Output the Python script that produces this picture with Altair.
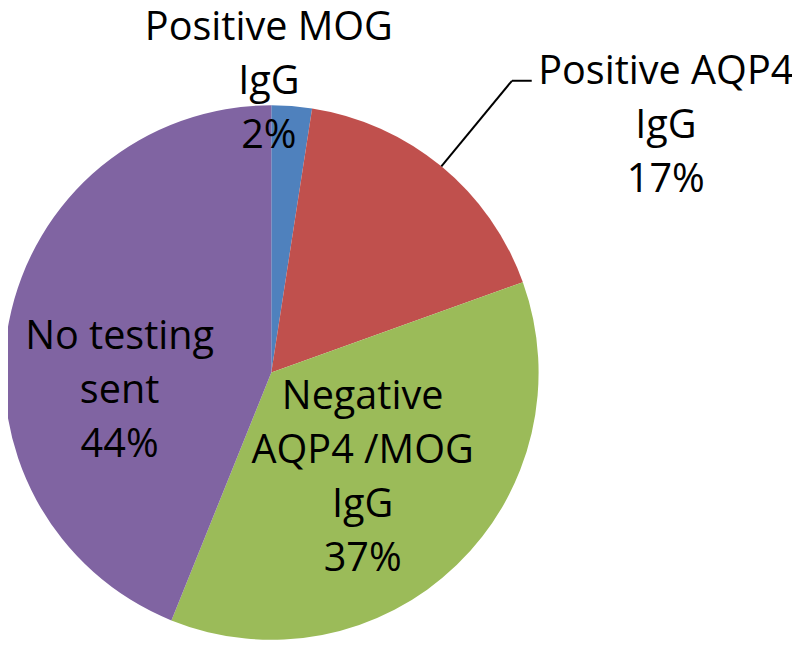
import altair as alt
import pandas as pd

# ---- data ----
categories = ["Positive MOG IgG", "Positive AQP4 IgG", "Negative AQP4 /MOG IgG", "No testing sent"]
counts = [1, 7, 15, 18]
labels = ["Positive MOG\nIgG\n2%", "Positive AQP4\nIgG\n17%", "Negative\nAQP4 /MOG\nIgG\n37%", "No testing\nsent\n44%"]
colors = ["#4F81BD", "#C0504D", "#9BBB59", "#8064A2"]

df = pd.DataFrame({
    "category": categories,
    "count": counts,
    "label": labels,
    "order": list(range(len(categories))),
})

# ---- layout ----
W, H = 792, 637
CX, CY, R = 266, 365, 270
FONT = "Open Sans"
FS = 40
LH = 54.5

base = alt.Chart(df)

pie = base.mark_arc(outerRadius=R, strokeWidth=0).encode(
    theta=alt.Theta("count:Q", stack=True),
    color=alt.Color("category:N", scale=alt.Scale(domain=categories, range=colors), legend=None),
    order=alt.Order("order:Q"),
    x=alt.value(CX),
    y=alt.value(CY),
)

lab = (
    base.transform_joinaggregate(total="sum(count)")
    .transform_window(cum="sum(count)", sort=[alt.SortField("order")])
    .transform_calculate(mid="(datum.cum - datum.count / 2) / datum.total * 2 * PI")
)

text_props = dict(font=FONT, fontSize=FS, lineHeight=LH, lineBreak="\n",
                  align="center", baseline="middle", color="black")

def text_layer(cat, radius, dx=0, dy=0):
    return lab.transform_filter(
        alt.FieldEqualPredicate(field="category", equal=cat)
    ).mark_text(radius=radius, dx=dx, dy=dy, **text_props).encode(
        theta=alt.Theta("mid:Q", scale=None, stack=None),
        text="label:N",
        x=alt.value(CX),
        y=alt.value(CY),
    )

mog_label = text_layer(categories[0], 294, dx=-25, dy=-LH)
aqp4_label = text_layer(categories[1], 323, dx=193, dy=-LH)
neg_label = text_layer(categories[2], 146, dx=-9, dy=-80)
none_label = text_layer(categories[3], 150, dx=-6, dy=-7)

leader_base = lab.transform_filter(
    alt.FieldEqualPredicate(field="category", equal=categories[1])
).transform_calculate(
    x0=f"{CX} + {R} * sin(datum.mid)",
    y0=f"{CY} - {R} * cos(datum.mid)",
    x1=f"{CX} + {R * 1.415} * sin(datum.mid)",
    y1=f"{CY} - {R * 1.415} * cos(datum.mid)",
).transform_calculate(x2="datum.x1 + 20")

leader1 = leader_base.mark_rule(color="black", strokeWidth=2).encode(
    x=alt.X("x0:Q", scale=None), y=alt.Y("y0:Q", scale=None),
    x2="x1:Q", y2="y1:Q",
)
leader2 = leader_base.mark_rule(color="black", strokeWidth=2).encode(
    x=alt.X("x1:Q", scale=None), y=alt.Y("y1:Q", scale=None),
    x2="x2:Q", y2="y1:Q",
)

chart = alt.layer(pie, leader1, leader2, neg_label, none_label, mog_label, aqp4_label).properties(
    width=W, height=H, padding=0, autosize=alt.AutoSizeParams(type="none"),
).configure_view(stroke=None)

chart.save("out.html", embed_options={"renderer": "svg", "actions": False})
